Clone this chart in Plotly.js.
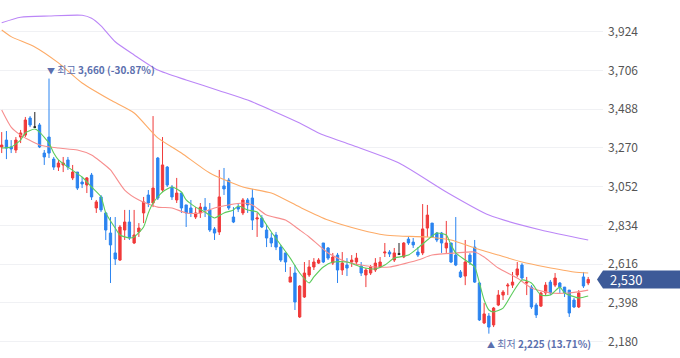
<!DOCTYPE html>
<html><head><meta charset="utf-8">
<script src="https://cdn.plot.ly/plotly-3.0.1.min.js"></script>
<style>html,body{margin:0;padding:0;background:#fff;}#chart{width:680px;height:358px;}</style>
</head><body><div id="chart"></div>
<script>
// Daily OHLC (oldest -> newest)
const opens = [
3275,3314,3275,3258,3331,3342,3438,3387,3399,3241,
3331,3207,3162,3174,3202,3101,3134,3078,3061,3117,
2932,2994,2904,2791,2679,2639,2808,2853,2735,2797,
2904,3005,2960,3213,3033,3162,3050,2977,3016,2949,
2932,2881,2904,2937,2921,2814,2797,3056,3089,2881,
2937,2904,2977,2988,2870,2876,2808,2763,2780,2712,
2679,2515,2566,2319,2431,2555,2600,2622,2735,2707,
2622,2667,2583,2611,2628,2628,2605,2555,2566,2583,
2600,2679,2684,2639,2673,2656,2757,2740,2684,2679,
2819,2847,2791,2791,2707,2735,2667,2572,2549,2667,
2712,2510,2285,2324,2274,2386,2442,2493,2498,2555,
2611,2510,2487,2386,2380,2454,2515,2498,2510,2487,
2470,2414,2375,2544,2510];
const highs = [
3359,3365,3314,3331,3371,3444,3449,3472,3410,3258,
3660,3219,3202,3219,3219,3174,3134,3106,3106,3129,
2977,3005,2909,2881,2881,2836,2921,2921,2921,2847,
2994,3033,3449,3219,3331,3168,3061,3101,3016,2949,
2977,2937,2960,2988,2960,2825,3146,3157,3101,2937,
2960,2988,2988,3039,2904,2892,2836,2791,2797,2724,
2679,2600,2611,2498,2628,2639,2650,2650,2735,2712,
2679,2679,2684,2650,2667,2679,2628,2594,2611,2650,
2656,2735,2695,2707,2735,2740,2769,2763,2712,2954,
2949,2847,2797,2797,2859,2735,2881,2583,2752,2679,
2752,2515,2397,2341,2375,2470,2470,2510,2572,2628,
2622,2544,2498,2397,2459,2515,2527,2566,2515,2487,
2470,2426,2470,2572,2544];
const lows = [
3241,3207,3241,3241,3297,3331,3387,3382,3269,3174,
3213,3146,3140,3134,3146,3089,3033,3044,3016,2977,
2904,2909,2752,2510,2611,2634,2752,2752,2729,2769,
2847,2937,2937,2977,3022,3050,2977,2960,2904,2825,
2881,2870,2876,2881,2797,2752,2780,3005,2921,2847,
2909,2892,2904,2808,2769,2819,2712,2712,2695,2628,
2572,2515,2358,2313,2426,2544,2583,2617,2622,2639,
2611,2510,2555,2549,2600,2611,2549,2487,2555,2572,
2594,2656,2656,2628,2667,2650,2724,2707,2656,2667,
2769,2763,2740,2679,2679,2622,2605,2538,2498,2611,
2510,2296,2279,2225,2262,2380,2414,2442,2482,2544,
2527,2442,2364,2313,2375,2437,2442,2487,2454,2431,
2319,2369,2369,2482,2498];
const closes = [
3286,3269,3264,3314,3354,3427,3399,3387,3275,3219,
3241,3162,3185,3185,3162,3134,3044,3067,3101,2994,
2966,2921,2808,2724,2645,2825,2853,2763,2780,2819,
2966,2960,3044,2988,3174,3061,2994,3016,2932,2904,
2904,2904,2937,2921,2808,2791,2994,3039,2932,2853,
2926,2977,2949,2864,2876,2825,2763,2735,2712,2639,
2628,2544,2403,2493,2566,2600,2628,2639,2628,2650,
2656,2583,2622,2594,2639,2650,2566,2583,2600,2622,
2628,2684,2673,2679,2673,2735,2735,2724,2667,2814,
2892,2769,2752,2735,2735,2628,2611,2544,2628,2628,
2515,2302,2336,2262,2369,2442,2459,2498,2515,2589,
2538,2515,2375,2330,2454,2498,2454,2538,2487,2454,
2341,2375,2454,2493,2530];
// days whose close equals open (drawn in black)
const flatDays = [7, 84];

// Moving averages (day index, value)
const ma5Days = [0,2,4,5,7,8,10,11,12,14,17,19,21,22,24,25,27,28,30,31,32,34,36,38,39,41,43,45,47,49,50,52,54,55,57,59,61,63,65,66,68,70,73,76,79,81,83,86,88,90,92,94,95,96,98,100,101,102,103,104,106,108,110,112,114,116,118,119,122,124];
const ma5 = [3269,3275,3314,3354,3376,3359,3297,3241,3202,3162,3106,3050,2994,2904,2819,2780,2763,2769,2825,2904,2960,3022,3050,3022,2977,2937,2909,2876,2904,2921,2943,2921,2909,2876,2797,2724,2650,2566,2510,2544,2600,2628,2628,2600,2589,2611,2650,2667,2707,2752,2791,2780,2724,2679,2639,2600,2510,2414,2358,2347,2369,2454,2527,2510,2442,2442,2487,2454,2426,2437];
const ma20Days = [0,2,4,8,12,16,19,21,23,26,29,33,36,39,42,45,48,51,53,56,60,63,65,69,73,76,79,82,84,88,91,96,100,102,105,109,112,116,120,124];
const ma20 = [3483,3387,3342,3286,3269,3258,3230,3191,3146,3033,2977,2937,2932,2904,2904,2932,2949,2960,2949,2892,2864,2808,2769,2679,2628,2611,2600,2600,2611,2639,2667,2679,2684,2656,2594,2538,2482,2454,2454,2470];
const ma60Days = [0,2,7,12,17,23,28,33,38,44,51,57,63,69,76,81,84,90,95,100,105,110,115,121,124];
const ma60 = [3933,3896,3838,3748,3635,3539,3466,3326,3241,3129,3050,3016,2937,2864,2808,2780,2774,2769,2752,2707,2667,2628,2600,2572,2566];
const ma120Days = [0,4,10,17,19,21,24,28,33,39,46,52,63,67,74,84,94,103,114,124];
const ma120 = [3974,4005,4012,4016,3999,3956,3867,3793,3708,3652,3592,3539,3410,3354,3286,3185,3022,2892,2808,2752];

const yTicks = [2180, 2398, 2616, 2834, 3052, 3270, 3488, 3706, 3924];
const yRange = [2088, 4102];

const RED = '#f03a3a', BLUE = '#2b84f0', BLACK = '#222';
const fmt = v => v.toLocaleString('en-US');
const days = opens.map((_, i) => i);
const normalDays = days.filter(i => !flatDays.includes(i));
const sel = (arr, list) => list.map(i => arr[i]);
const maLine = (color) => ({color: color, width: 1.1, shape: 'spline', smoothing: 0.6});

const traces = [
  {type:'candlestick', x: normalDays, open: sel(opens, normalDays), high: sel(highs, normalDays),
   low: sel(lows, normalDays), close: sel(closes, normalDays),
   increasing:{line:{color:RED, width:1}, fillcolor:RED},
   decreasing:{line:{color:BLUE, width:1}, fillcolor:BLUE}, hoverinfo:'skip'},
  {type:'candlestick', x: flatDays, open: sel(opens, flatDays), high: sel(highs, flatDays),
   low: sel(lows, flatDays), close: sel(closes, flatDays),
   increasing:{line:{color:BLACK, width:1}, fillcolor:BLACK},
   decreasing:{line:{color:BLACK, width:1}, fillcolor:BLACK}, hoverinfo:'skip'},
  {type:'scatter', mode:'lines', x: ma120Days, y: ma120, line: maLine('#bb86f7'), hoverinfo:'skip'},
  {type:'scatter', mode:'lines', x: ma60Days, y: ma60, line: maLine('#fdab67'), hoverinfo:'skip'},
  {type:'scatter', mode:'lines', x: ma20Days, y: ma20, line: maLine('#f78e8e'), hoverinfo:'skip'},
  {type:'scatter', mode:'lines', x: ma5Days, y: ma5, line: maLine('#5ccc5c'), hoverinfo:'skip'}
];

const last = closes[closes.length - 1];
const hi = Math.max(...highs), hiDay = highs.indexOf(hi);
const lo = Math.min(...lows), loDay = lows.indexOf(lo);
const pct = ref => ((last - ref) / ref * 100).toFixed(2);
const labelColor = '#5b6fae';
const lblFont = {family:'Noto Sans CJK KR, Noto Sans, sans-serif', size:10, color:labelColor};

const py = (last - yRange[0]) / (yRange[1] - yRange[0]);
const ph = 9 / 358;
const boxPath = `M 0.990 ${py} L 1.0 ${py + ph} L 1.13 ${py + ph} L 1.13 ${py - ph} L 1.0 ${py - ph} Z`;

const layout = {
  width:680, height:358, margin:{l:0, r:77, t:0, b:0},
  paper_bgcolor:'#fff', plot_bgcolor:'#fff', showlegend:false,
  xaxis:{range:[-0.36, 127.13], showgrid:false, zeroline:false, showticklabels:false, showline:false,
         ticks:'', rangeslider:{visible:false}, fixedrange:true},
  yaxis:{side:'right', range:yRange, tickvals:yTicks, ticktext:yTicks.map(fmt),
         showgrid:true, gridcolor:'#f0f1f4', gridwidth:1, zeroline:false, showline:false, ticks:'',
         ticklabelstandoff:4, fixedrange:true,
         tickfont:{family:'Noto Sans CJK KR, Noto Sans, sans-serif', size:12, color:'#555'}},
  shapes:[{type:'path', xref:'paper', yref:'paper', path:boxPath, fillcolor:'#3d5a98', line:{width:0}, layer:'above'}],
  annotations:[
    {xref:'x', yref:'y', x:hiDay, y:hi, xanchor:'left', yanchor:'bottom', xshift:-4, showarrow:false,
     text:`<span style="font-size:8px">▼</span> 최고 <b>${fmt(hi)} (${pct(hi)}%)</b>`, font:lblFont},
    {xref:'x', yref:'y', x:loDay, y:lo, xanchor:'left', yanchor:'top', xshift:-4, showarrow:false,
     text:`<span style="font-size:8px">▲</span> 최저 <b>${fmt(lo)} (${pct(lo)}%)</b>`, font:lblFont},
    {xref:'paper', yref:'y', x:1.008, y:last, xanchor:'left', yanchor:'middle', showarrow:false,
     text:fmt(last), font:{family:'Noto Sans CJK KR, Noto Sans, sans-serif', size:13, color:'#fff'}}
  ]
};

Plotly.newPlot('chart', traces, layout, {displayModeBar:false, staticPlot:true});
</script>
</body></html>
